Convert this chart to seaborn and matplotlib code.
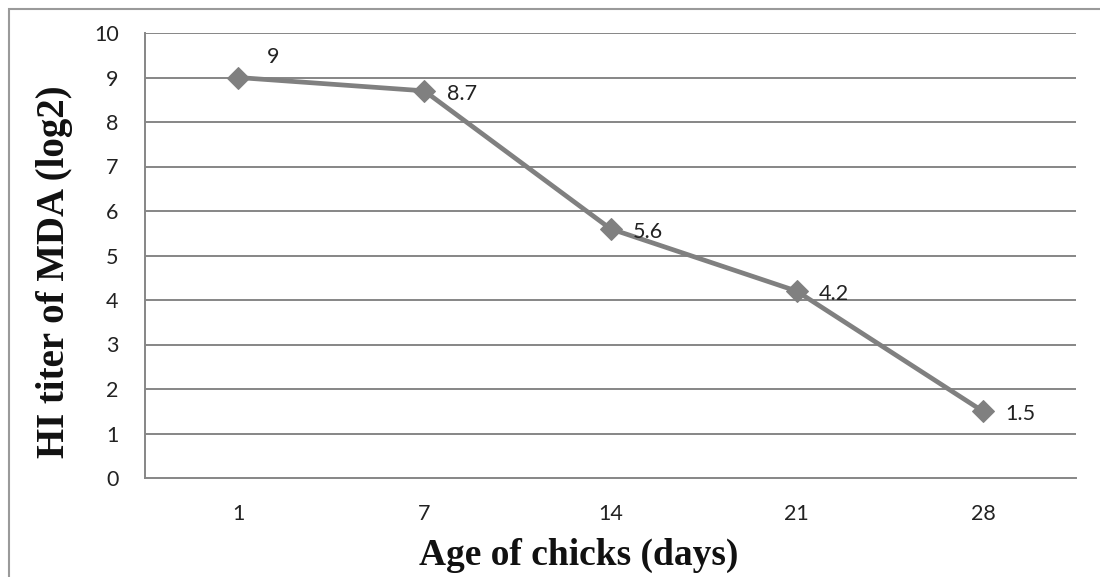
import matplotlib
matplotlib.use("Agg")
import matplotlib.pyplot as plt
import seaborn as sns
import pandas as pd
from matplotlib.patches import Rectangle

ages = ["1", "7", "14", "21", "28"]
titer = [9, 8.7, 5.6, 4.2, 1.5]
label_texts = ["9", "8.7", "5.6", "4.2", "1.5"]
y_ticks = list(range(0, 11))

sns.set_theme(style="white")
plt.rcParams['font.family'] = ['Lato', 'DejaVu Sans']

df = pd.DataFrame({"pos": range(len(ages)), "age": ages, "titer": titer})

fig = plt.figure(figsize=(11, 5.77), dpi=100)
ax = fig.add_axes([145/1100, 1-478/577, (1076-145)/1100, (478-33)/577])

GRID = "#868686"
LINE = "#808080"

for y in y_ticks[1:]:
    ax.axhline(y, color=GRID, lw=1.4, zorder=1)

sns.lineplot(data=df, x="pos", y="titer", ax=ax, color=LINE, lw=3.4,
             marker="D", markersize=11, markeredgecolor=LINE,
             markerfacecolor=LINE, zorder=3)

ax.set_xlim(-0.5, len(ages) - 0.5)
ax.set_ylim(0, 10)
ax.set_yticks(y_ticks)
ax.set_yticklabels([str(v) for v in y_ticks], fontsize=15.5, color="#222222")
ax.set_xticks(range(len(ages)))
ax.set_xticklabels(ages, fontsize=15.5, color="#222222")
ax.set_xticks([i - 0.5 for i in range(len(ages) + 1)], minor=True)
ax.tick_params(axis="x", which="major", length=0, pad=19)
ax.tick_params(axis="x", which="minor", length=6, width=1.4, color=GRID, direction="out")
ax.tick_params(axis="y", which="major", length=7, width=1.4, color=GRID, direction="out", pad=12)

for s in ["top", "right"]:
    ax.spines[s].set_visible(False)
for s in ["left", "bottom"]:
    ax.spines[s].set_color(GRID)
    ax.spines[s].set_linewidth(1.4)

ax.set_xlabel("Age of chicks (days)", fontsize=27, fontweight="bold",
              family="Liberation Serif", color="#111111", labelpad=10)
ax.xaxis.set_label_coords((579 - 145) / (1076 - 145), -0.135)
ax.set_ylabel("HI titer of MDA (log2)", fontsize=28, fontweight="bold",
              family="Liberation Serif", color="#111111")
ax.yaxis.set_label_coords(-0.077, (478 - 272) / (478 - 33))

for i, (v, t) in enumerate(zip(titer, label_texts)):
    if i == 0:
        ax.annotate(t, (i, v), xytext=(25, 15), textcoords="offset points",
                    ha="center", va="center", fontsize=15.5, color="#222222")
    else:
        ax.annotate(t, (i, v), xytext=(16, -2), textcoords="offset points",
                    ha="left", va="center", fontsize=15.5, color="#222222")

fig.patches.append(Rectangle((9/1100, -0.1), 1.2, 1 - 9/577 + 0.1,
                             transform=fig.transFigure, fill=False,
                             edgecolor="#9a9a9a", lw=1.5))

fig.savefig("out.png", dpi=100)
